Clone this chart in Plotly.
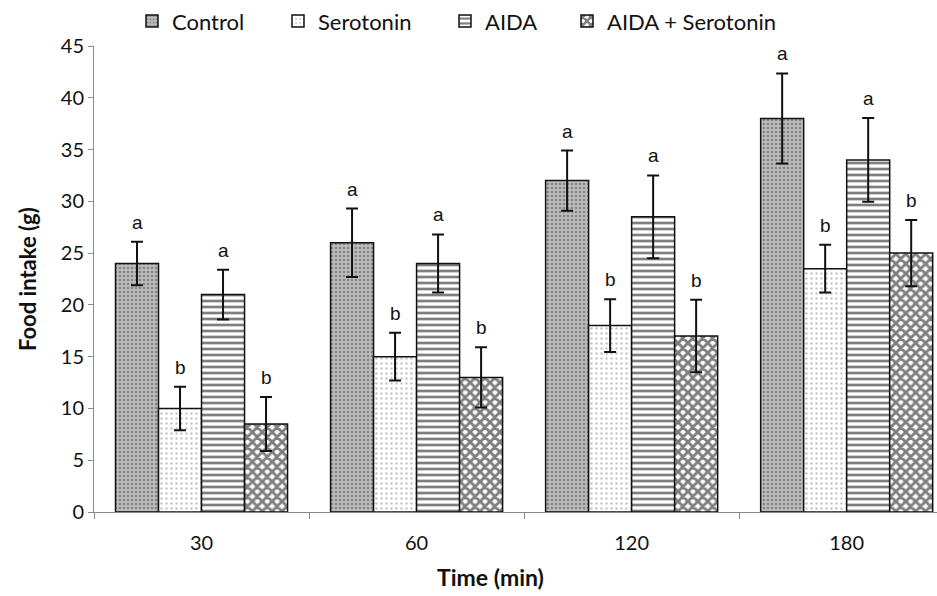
import plotly.graph_objects as go

# Food intake over time for four treatment groups
times = ["30", "60", "120", "180"]
series_names = ["Control", "Serotonin", "AIDA", "AIDA + Serotonin"]

control = [24, 26, 32, 38]
control_err = [2.1, 3.3, 2.9, 4.35]
serotonin = [10, 15, 18, 23.5]
serotonin_err = [2.1, 2.3, 2.55, 2.3]
aida = [21, 24, 28.5, 34]
aida_err = [2.4, 2.8, 4.0, 4.05]
aida_sero = [8.5, 13, 17, 25]
aida_sero_err = [2.6, 2.9, 3.5, 3.2]

letters_control = ["a", "a", "a", "a"]
letters_serotonin = ["b", "b", "b", "b"]
letters_aida = ["a", "a", "a", "a"]
letters_aida_sero = ["b", "b", "b", "b"]

values = [control, serotonin, aida, aida_sero]
errors = [control_err, serotonin_err, aida_err, aida_sero_err]
letters = [letters_control, letters_serotonin, letters_aida, letters_aida_sero]

patterns = [
    dict(shape=".", bgcolor="#bdbdbd", fgcolor="#4a4a4a", size=4, solidity=0.35, fillmode="overlay"),
    dict(shape=".", bgcolor="#ffffff", fgcolor="#8a8a8a", size=5, solidity=0.18, fillmode="overlay"),
    dict(shape="-", bgcolor="#ffffff", fgcolor="#000000", size=6, solidity=0.45, fillmode="overlay"),
    dict(shape="x", bgcolor="#ffffff", fgcolor="#000000", size=7, solidity=0.65, fillmode="overlay"),
]

FONT = "Lato"
PLOT_L, PLOT_R, PLOT_T, PLOT_B = 94, 937, 42, 512
W, H = 937, 596

def px_to_paper_x(px):
    return (px - PLOT_L) / (PLOT_R - PLOT_L)

# legend text start positions (px) for each entry
legend_text_px = [172, 318, 485, 607]
legend_ids = ["legend", "legend2", "legend3", "legend4"]

fig = go.Figure()
for j, name in enumerate(series_names):
    fig.add_trace(go.Bar(
        x=times, y=values[j], name=name,
        marker=dict(color="white", pattern=patterns[j],
                    line=dict(color="#111111", width=1.5)),
        error_y=dict(type="data", array=errors[j], visible=True,
                     color="#111111", thickness=2, width=6),
        legend=legend_ids[j],
    ))

annotations = []
for j in range(4):
    off = (j - 1.5) * 0.2
    for i in range(len(times)):
        annotations.append(dict(
            x=i + off, y=values[j][i] + errors[j][i], xref="x", yref="y",
            text=letters[j][i], showarrow=False, yanchor="bottom", yshift=7,
            font=dict(family="Liberation Sans", size=19, color="#111111"),
        ))

annotations.append(dict(
    x=0, y=0.5, xref="paper", yref="paper", xshift=-67, text="<b>Food intake (g)</b>",
    textangle=-90, showarrow=False, xanchor="center", yanchor="middle",
    font=dict(family=FONT, size=22, color="#111111"),
))
annotations.append(dict(
    x=px_to_paper_x(490), y=0, xref="paper", yref="paper", yshift=-65,
    text="<b>Time (min)</b>", showarrow=False, xanchor="center", yanchor="middle",
    font=dict(family=FONT, size=23, color="#111111"),
))

layout_legends = {}
for j, lid in enumerate(legend_ids):
    layout_legends[lid] = dict(
        x=px_to_paper_x(legend_text_px[j] - 40), y=1 + (PLOT_T - 17) / (PLOT_B - PLOT_T),
        xanchor="left", yanchor="middle", orientation="h",
        font=dict(family=FONT, size=22, color="#111111"),
        bgcolor="rgba(0,0,0,0)", borderwidth=0,
    )

fig.update_layout(
    width=W, height=H,
    margin=dict(l=PLOT_L, r=W - PLOT_R, t=PLOT_T, b=H - PLOT_B),
    plot_bgcolor="white", paper_bgcolor="white",
    barmode="group", bargap=0.2, bargroupgap=0,
    showlegend=True,
    annotations=annotations,
    font=dict(family=FONT, color="#111111"),
    **layout_legends,
)

fig.update_xaxes(
    type="category", range=[-0.5, 3.42], showline=True, linecolor="#8a8a8a", linewidth=1,
    ticks="outside", tickson="boundaries", ticklen=6, tickcolor="#8a8a8a",
    tickfont=dict(family=FONT, size=20, color="#111111"), ticklabelstandoff=13,
    showgrid=False, zeroline=False,
)
fig.update_yaxes(
    range=[0, 45], dtick=5, showline=True, linecolor="#8a8a8a", linewidth=1,
    ticks="outside", ticklen=5, tickcolor="#8a8a8a",
    tickfont=dict(family=FONT, size=20, color="#111111"),
    showgrid=False, zeroline=False,
)

fig.write_html("out.html")
